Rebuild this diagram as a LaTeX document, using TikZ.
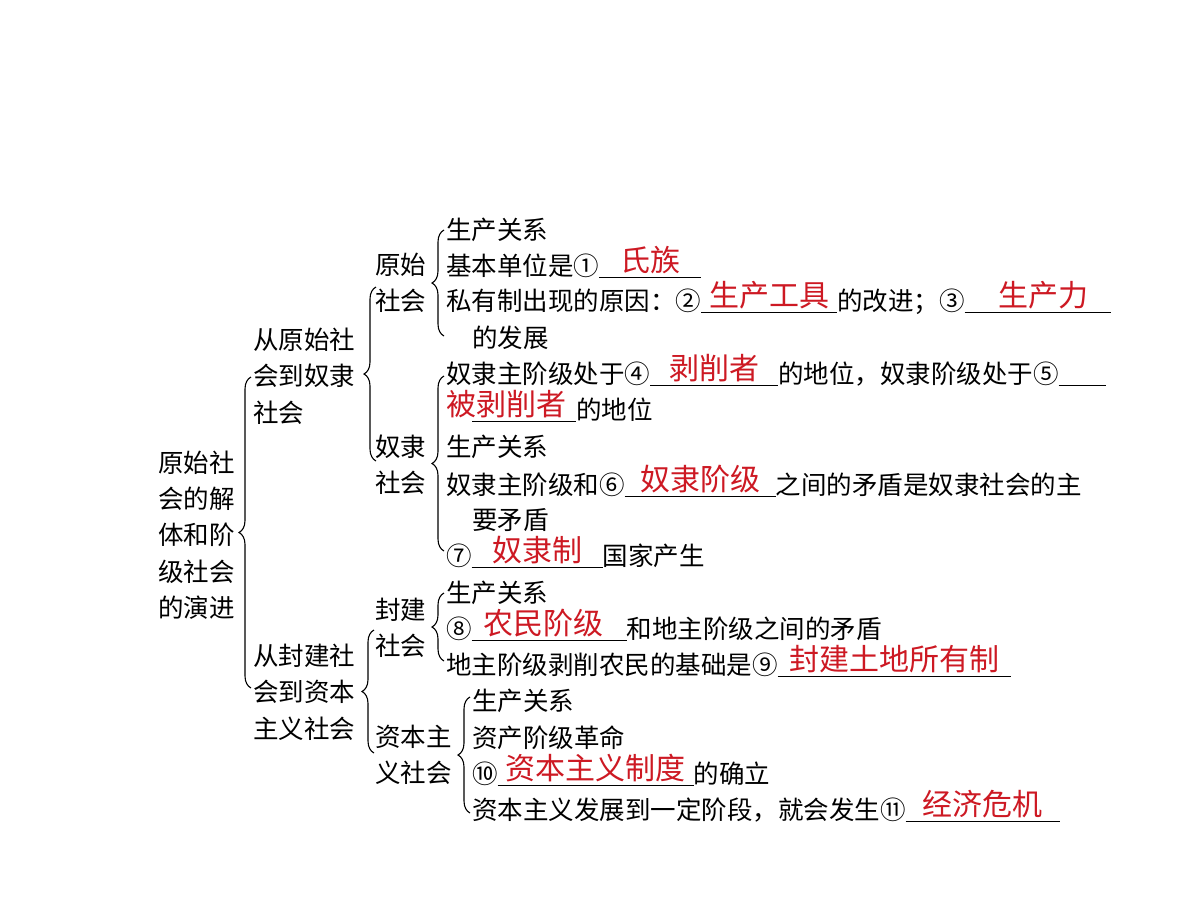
\documentclass[tikz,border=0pt]{standalone}
\usepackage{fontspec}
\setmainfont{Noto Sans CJK SC}
\usetikzlibrary{decorations.pathreplacing}
\definecolor{ansred}{RGB}{205,25,35}
\newcommand{\anstxt}[1]{{\color{ansred}\fontsize{30pt}{30pt}\selectfont #1}}
\newcommand{\ans}[2]{\rlap{\rule[-3pt]{#1}{1.2pt}}\makebox[#1][c]{\raisebox{4pt}{\anstxt{#2}}}}
\newcommand{\cnum}[1]{\makebox[25.5pt][c]{#1}}
\tikzset{
  item/.style={inner sep=0pt, anchor=base west, font=\fontsize{25.5pt}{36.3pt}\selectfont},
  topic/.style={inner sep=0pt, anchor=west, align=left, font=\fontsize{25.5pt}{36.3pt}\selectfont},
  brc/.style={decorate, decoration={brace, amplitude=12pt}, line width=1.1pt}
}
\begin{document}
\begin{tikzpicture}[x=1pt, y=-1pt]
			\useasboundingbox (0,0) rectangle (1200,911);
			\fill[white] (0,0) rectangle (1200,911);
			% topics
			\node[topic] (root) at (158, 535) {原始社\\会的解\\体和阶\\级社会\\的演进};
			\node[topic] (slave) at (253, 376) {从原始社\\会到奴隶\\社会};
			\node[topic] (cap) at (253, 692) {从封建社\\会到资本\\主义社会};
			\node[topic] (prim) at (375, 283) {原始\\社会};
			\node[topic] (slavery) at (375, 465) {奴隶\\社会};
			\node[topic] (feud) at (375, 628) {封建\\社会};
			\node[topic] (capsoc) at (375, 755) {资本主\\义社会};
			% brace ends
			\coordinate (rootT) at (251, 377);
			\coordinate (rootB) at (251, 688);
			\coordinate (slaveT) at (376, 287);
			\coordinate (slaveB) at (376, 461);
			\coordinate (capT) at (374, 630);
			\coordinate (capB) at (374, 753);
			\coordinate (primT) at (444, 230);
			\coordinate (primB) at (444, 336);
			\coordinate (slaveryT) at (444, 376);
			\coordinate (slaveryB) at (444, 551);
			\coordinate (feudT) at (444, 593);
			\coordinate (feudB) at (444, 661);
			\coordinate (capsocT) at (470, 697);
			\coordinate (capsocB) at (470, 813);
			\draw[brc] (rootB) -- (rootT);
			\draw[brc] (slaveB) -- (slaveT);
			\draw[brc] (capB) -- (capT);
			\draw[brc] (primB) -- (primT);
			\draw[brc] (slaveryB) -- (slaveryT);
			\draw[brc] (feudB) -- (feudT);
			\draw[brc] (capsocB) -- (capsocT);
			% primitive society
			\node[item] (p1) at (446, 239) {生产关系};
			\node[item] (p2) at (446, 275) {基本单位是\cnum{①}\ans{102pt}{氏族}};
			\node[item] (p3) at (446, 310) {私有制出现的原因：\cnum{②}\ans{136pt}{生产工具}的改进；\cnum{③}\ans{146pt}{\hspace{12pt}生产力}};
			\node[item] (p4) at (472, 347) {的发展};
			% slave society
			\node[item] (s1) at (446, 383) {奴隶主阶级处于\cnum{④}\ans{128pt}{剥削者}的地位，奴隶阶级处于\cnum{⑤}\ans{47pt}{}};
			\node[item] (s2) at (446, 419) {\rlap{\raisebox{4pt}{\anstxt{被剥削者}}}\hspace{26pt}\ans{104pt}{}的地位};
			\node[item] (s3) at (446, 456) {生产关系};
			\node[item] (s4) at (446, 494) {奴隶主阶级和\cnum{⑥}\ans{151pt}{奴隶阶级}之间的矛盾是奴隶社会的主};
			\node[item] (s5) at (472, 529) {要矛盾};
			\node[item] (s6) at (446, 565) {\cnum{⑦}\ans{131pt}{奴隶制}国家产生};
			% feudal society
			\node[item] (f1) at (446, 602) {生产关系};
			\node[item] (f2) at (446, 638) {\cnum{⑧}\ans{155pt}{农民阶级\hspace{12pt}}和地主阶级之间的矛盾};
			\node[item] (f3) at (446, 674) {地主阶级剥削农民的基础是\cnum{⑨}\ans{233pt}{封建土地所有制}};
			% capitalist society
			\node[item] (c1) at (472, 710) {生产关系};
			\node[item] (c2) at (472, 747) {资产阶级革命};
			\node[item] (c3) at (472, 783) {\cnum{⑩}\ans{196pt}{资本主义制度}的确立};
			\node[item] (c4) at (472, 819) {资本主义发展到一定阶段，就会发生\cnum{⑪}\ans{154pt}{经济危机}};
		\end{tikzpicture}
\end{document}
